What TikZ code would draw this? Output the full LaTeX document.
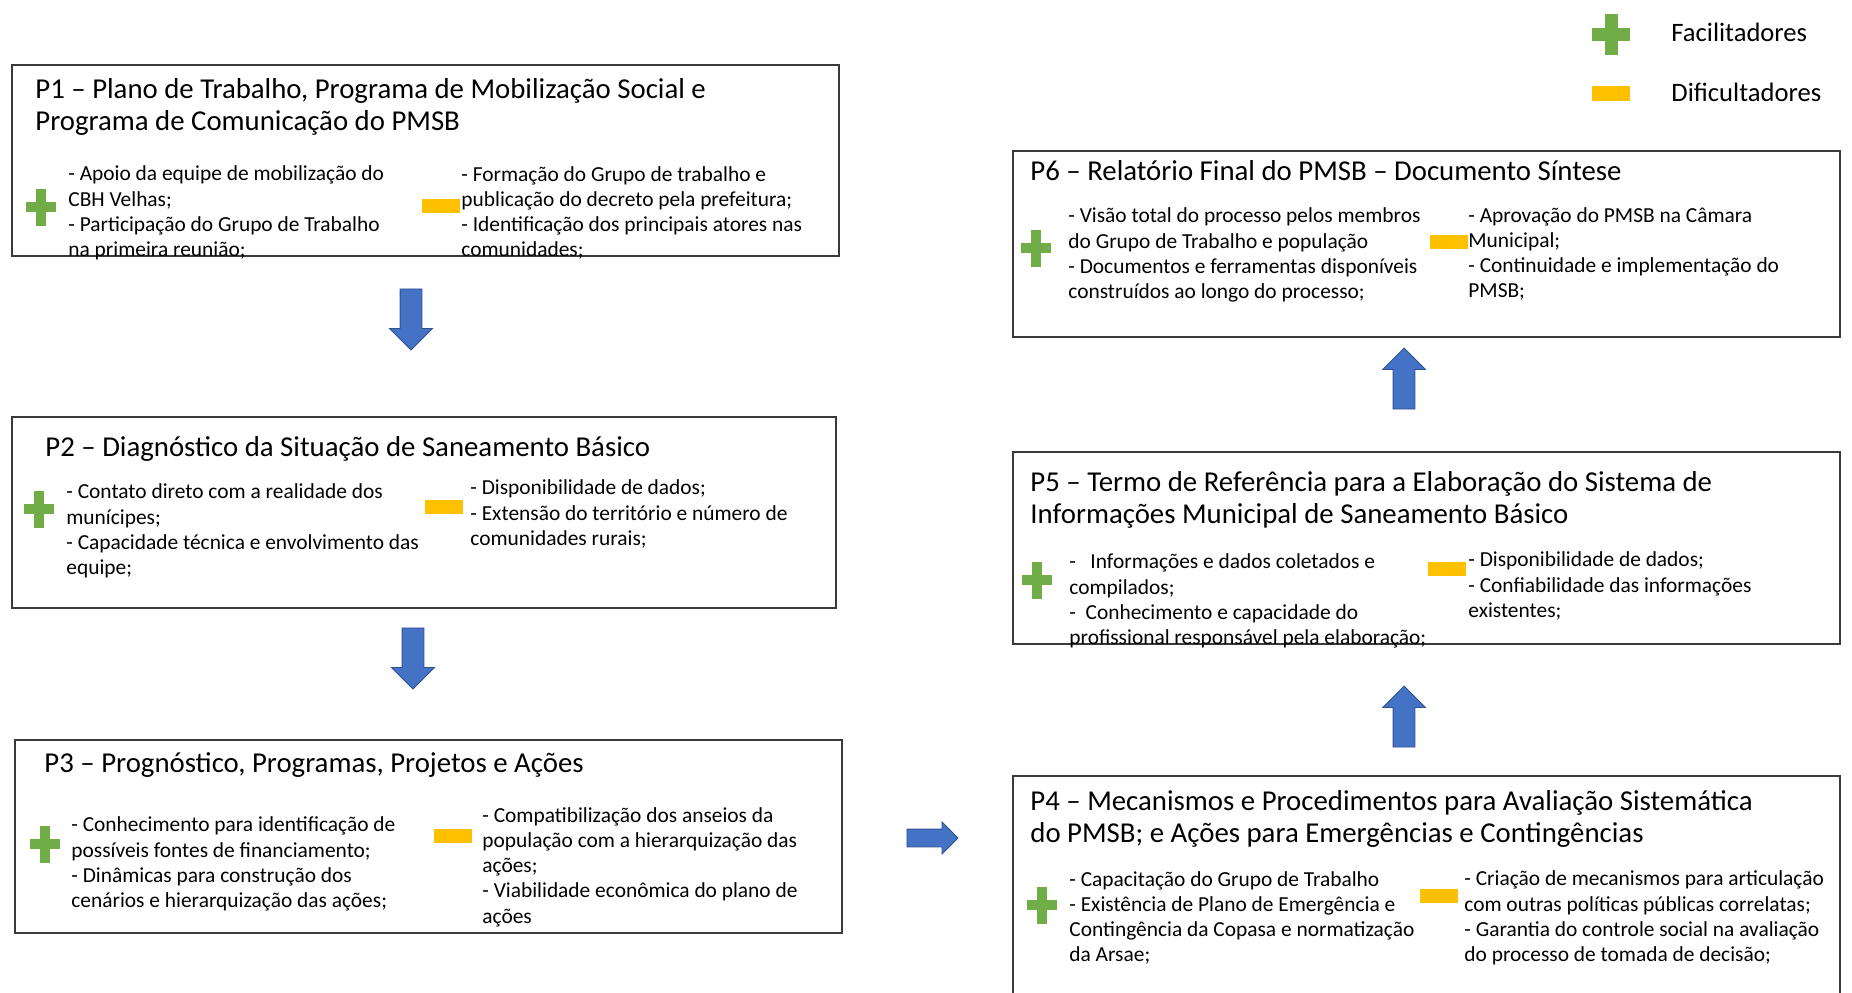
\documentclass[tikz,border=0pt]{standalone}
\usepackage{fontspec}
\setmainfont{Carlito}
\usepackage{tikz}
\usepackage{xcolor}
\usetikzlibrary{shapes.arrows}

\definecolor{facgreen}{HTML}{70AD47}
\definecolor{difyellow}{HTML}{FFC000}
\definecolor{arrowblue}{HTML}{4472C4}
\definecolor{arrowedge}{HTML}{2F528F}
\definecolor{boxline}{HTML}{3A3A3A}

\tikzset{
  stagebox/.style={draw=boxline, line width=0.9pt},
  titletext/.style={anchor=west, align=left, inner sep=0pt, font=\fontsize{14.4}{16}\selectfont},
  itemtext/.style={anchor=west, align=left, inner sep=0pt, font=\fontsize{10.7}{12.6}\selectfont},
  legendtext/.style={anchor=west, inner sep=0pt, font=\fontsize{13.3}{15}\selectfont},
  plusmark/.style={minimum width=15pt, minimum height=18.5pt, inner sep=0pt,
    path picture={
      \fill[facgreen] ([xshift=-#1]path picture bounding box.south) rectangle ([xshift=#1]path picture bounding box.north);
      \fill[facgreen] ([yshift=-#1]path picture bounding box.west) rectangle ([yshift=#1]path picture bounding box.east);
    }},
  plusmark/.default=2.5pt,
  minusmark/.style={fill=difyellow, minimum width=19pt, minimum height=7pt, inner sep=0pt},
  blockarrow/.style={single arrow, fill=arrowblue, draw=arrowedge, line width=0.4pt,
    inner xsep=0pt, inner ysep=5.25pt, single arrow head extend=5.25pt,
    minimum width=21pt, minimum height=30.5pt}
}

\begin{document}
\begin{tikzpicture}[x=0.5pt,y=0.5pt,yscale=-1,xscale=1]
\useasboundingbox (0,0) rectangle (1852,992);

% legenda
\node[plusmark=3.25pt, minimum width=19pt, minimum height=20.5pt] (legplus) at (1611,34) {};
\node[legendtext] (legfac) at (1671,32) {Facilitadores};
\node[minusmark, minimum width=19pt, minimum height=7.5pt] (legminus) at (1611,93) {};
\node[legendtext] (legdif) at (1671,92) {Dificultadores};

% P1
\draw[stagebox] (12,65) rectangle (839,256);
\node[titletext] (p1title) at (35,107) {P1 – Plano de Trabalho, Programa de Mobilização Social e\\Programa de Comunicação do PMSB};
\node[plusmark] (p1plus) at (41,207) {};
\node[itemtext] (p1fac) at (68,213) {- Apoio da equipe de mobilização do\\CBH Velhas;\\- Participação do Grupo de Trabalho\\na primeira reunião;};
\node[minusmark] (p1minus) at (441,206) {};
\node[itemtext] (p1dif) at (461,213) {- Formação do Grupo de trabalho e\\publicação do decreto pela prefeitura;\\- Identificação dos principais atores nas\\comunidades;};

\node[blockarrow, rotate=-90] (arrow12) at (411,314) {};

% P2
\draw[stagebox] (12,417) rectangle (836,608);
\node[titletext] (p2title) at (45,449) {P2 – Diagnóstico da Situação de Saneamento Básico};
\node[plusmark] (p2plus) at (39,509) {};
\node[itemtext] (p2fac) at (66,531) {- Contato direto com a realidade dos\\munícipes;\\- Capacidade técnica e envolvimento das\\equipe;};
\node[minusmark] (p2minus) at (444,507) {};
\node[itemtext] (p2dif) at (470,514) {- Disponibilidade de dados;\\- Extensão do território e número de\\comunidades rurais;};

\node[blockarrow, rotate=-90] (arrow23) at (413,653) {};

% P3
\draw[stagebox] (15,740) rectangle (842,933);
\node[titletext] (p3title) at (44,765) {P3 – Prognóstico, Programas, Projetos e Ações};
\node[plusmark] (p3plus) at (45,844) {};
\node[itemtext] (p3fac) at (71,864) {- Conhecimento para identificação de\\possíveis fontes de financiamento;\\- Dinâmicas para construção dos\\cenários e hierarquização das ações;};
\node[minusmark] (p3minus) at (453,836) {};
\node[itemtext] (p3dif) at (482,867) {- Compatibilização dos anseios da\\população com a hierarquização das\\ações;\\- Viabilidade econômica do plano de\\ações};

\node[blockarrow, inner ysep=4.25pt, single arrow head extend=3.5pt, minimum width=15.5pt, minimum height=25.5pt] (arrow34) at (928,838) {};

% P4
\draw[stagebox] (1013,776) rectangle (1840,1000);
\node[titletext] (p4title) at (1030,819) {P4 – Mecanismos e Procedimentos para Avaliação Sistemática\\do PMSB; e Ações para Emergências e Contingências};
\node[plusmark] (p4plus) at (1042,905) {};
\node[itemtext] (p4fac) at (1069,918) {- Capacitação do Grupo de Trabalho\\- Existência de Plano de Emergência e\\Contingência da Copasa e normatização\\da Arsae;};
\node[minusmark] (p4minus) at (1439,896) {};
\node[itemtext] (p4dif) at (1464,918) {- Criação de mecanismos para articulação\\com outras políticas públicas correlatas;\\- Garantia do controle social na avaliação\\do processo de tomada de decisão;};

\node[blockarrow, rotate=90] (arrow45) at (1404,722) {};

% P5
\draw[stagebox] (1013,452) rectangle (1840,644);
\node[titletext] (p5title) at (1030,500) {P5 – Termo de Referência para a Elaboração do Sistema de\\Informações Municipal de Saneamento Básico};
\node[plusmark] (p5plus) at (1037,580) {};
\node[itemtext] (p5fac) at (1069,601) {-\ \ \ Informações e dados coletados e\\compilados;\\-\ \ Conhecimento e capacidade do\\profissional responsável pela elaboração;};
\node[minusmark] (p5minus) at (1447,569) {};
\node[itemtext] (p5dif) at (1468,586) {- Disponibilidade de dados;\\- Confiabilidade das informações\\existentes;};

\node[blockarrow, rotate=90] (arrow56) at (1404,384) {};

% P6
\draw[stagebox] (1013,151) rectangle (1840,337);
\node[titletext] (p6title) at (1030,171) {P6 – Relatório Final do PMSB – Documento Síntese};
\node[plusmark] (p6plus) at (1036,248) {};
\node[itemtext] (p6fac) at (1068,255) {- Visão total do processo pelos membros\\do Grupo de Trabalho e população\\- Documentos e ferramentas disponíveis\\construídos ao longo do processo;};
\node[minusmark] (p6minus) at (1449,242) {};
\node[itemtext] (p6dif) at (1468,254) {- Aprovação do PMSB na Câmara\\Municipal;\\- Continuidade e implementação do\\PMSB;};

\end{tikzpicture}
\end{document}
